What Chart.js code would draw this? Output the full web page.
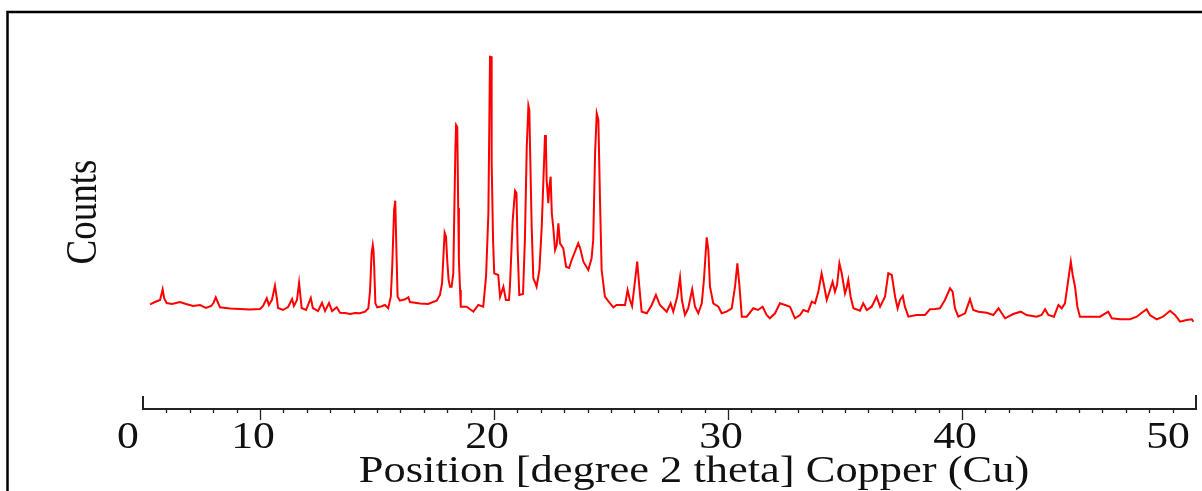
<!DOCTYPE html>
<html>
<head>
<meta charset="utf-8">
<script src="https://cdn.jsdelivr.net/npm/chart.js@4"></script>
<style>
  html, body { margin: 0; padding: 0; background: #fff; }
  #wrap { width: 1202px; height: 491px; position: relative; }
</style>
</head>
<body>
<div id="wrap"><canvas id="xrd" width="1202" height="491"></canvas></div>
<script>
// 2-theta positions (degrees) and counts
const twoTheta = [
  5.30, 5.51, 5.73, 5.84, 5.90, 6.01, 6.24, 6.58, 6.84, 7.14, 7.44, 7.69, 7.91, 8.01, 8.11, 8.21, 8.29, 8.72, 9.15, 9.57,
  10.00, 10.13, 10.29, 10.38, 10.51, 10.64, 10.73, 10.77, 10.98, 11.20, 11.37, 11.45, 11.58, 11.67, 11.78, 11.97, 12.17, 12.26, 12.48, 12.65,
  12.78, 12.95, 13.08, 13.28, 13.42, 13.63, 13.85, 14.06, 14.27, 14.49, 14.63, 14.70, 14.77, 14.82, 14.85, 14.88, 14.93, 15.01, 15.17, 15.34,
  15.48, 15.59, 15.65, 15.73, 15.78, 15.84, 15.88, 15.98, 16.20, 16.34, 16.41, 16.62, 16.84, 17.19, 17.39, 17.55, 17.69, 17.78, 17.83, 17.89,
  17.95, 18.00, 18.06, 18.12, 18.19, 18.26, 18.30, 18.35, 18.38, 18.43, 18.47, 18.50, 18.55, 18.58, 18.83, 19.12, 19.33, 19.54, 19.66, 19.76,
  19.80, 19.83, 19.89, 19.90, 19.96, 20.01, 20.18, 20.26, 20.40, 20.51, 20.64, 20.68, 20.80, 20.90, 20.96, 21.01, 21.08, 21.24, 21.32, 21.40,
  21.47, 21.51, 21.54, 21.61, 21.68, 21.75, 21.82, 21.94, 22.04, 22.18, 22.22, 22.25, 22.32, 22.36, 22.42, 22.47, 22.53, 22.61, 22.68, 22.75,
  22.82, 22.96, 23.08, 23.21, 23.32, 23.46, 23.60, 23.68, 23.82, 23.93, 24.03, 24.17, 24.24, 24.32, 24.39, 24.46, 24.53, 24.60, 24.74, 24.96,
  25.10, 25.24, 25.38, 25.60, 25.71, 25.81, 25.90, 26.03, 26.12, 26.21, 26.31, 26.53, 26.74, 26.92, 27.09, 27.38, 27.55, 27.66, 27.83, 27.95,
  28.03, 28.16, 28.30, 28.47, 28.59, 28.73, 28.88, 28.97, 29.09, 29.16, 29.23, 29.37, 29.59, 29.73, 29.94, 30.16, 30.30, 30.40, 30.48, 30.59,
  30.80, 31.08, 31.28, 31.48, 31.65, 31.79, 32.01, 32.22, 32.44, 32.65, 32.86, 33.08, 33.22, 33.42, 33.58, 33.72, 33.86, 34.00, 34.10, 34.22,
  34.36, 34.47, 34.57, 34.66, 34.76, 34.86, 35.00, 35.07, 35.14, 35.24, 35.36, 35.64, 35.78, 35.93, 36.14, 36.35, 36.50, 36.71, 36.85, 37.00,
  37.14, 37.25, 37.35, 37.47, 37.56, 37.71, 38.06, 38.42, 38.63, 38.85, 39.06, 39.27, 39.49, 39.60, 39.70, 39.84, 40.13, 40.34, 40.48, 40.70,
  41.06, 41.34, 41.56, 41.70, 41.84, 42.19, 42.51, 42.76, 43.19, 43.40, 43.55, 43.69, 43.93, 44.12, 44.26, 44.40, 44.52, 44.65, 44.73, 44.83,
  44.93, 45.04, 45.47, 45.90, 46.25, 46.40, 46.75, 47.18, 47.47, 47.68, 47.89, 48.03, 48.32, 48.59, 48.89, 49.10, 49.32, 49.60, 49.82, 49.89
];
const counts = [
  1047, 1070, 1090, 1197, 1110, 1060, 1050, 1070, 1050, 1030, 1040, 1010, 1030, 1060, 1117, 1060, 1017, 1005, 1000, 995,
  1000, 1030, 1107, 1040, 1090, 1233, 1090, 1010, 990, 1020, 1100, 1030, 1090, 1263, 1010, 990, 1110, 1010, 980, 1063,
  980, 1060, 980, 1017, 963, 960, 950, 960, 957, 973, 1007, 1173, 1557, 1640, 1590, 1423, 1057, 1017, 1025, 1040,
  1007, 1123, 1423, 1990, 2083, 1490, 1123, 1083, 1097, 1117, 1070, 1063, 1055, 1050, 1070, 1083, 1140, 1257, 1490, 1763,
  1723, 1490, 1290, 1223, 1223, 1357, 1923, 2590, 2840, 2820, 2010, 1490, 1190, 1023, 1023, 973, 1040, 1023, 1323, 1957,
  2857, 3523, 3520, 2460, 1690, 1357, 1340, 1123, 1223, 1090, 1090, 1223, 1890, 2183, 2160, 1607, 1140, 1150, 1690, 2623,
  3033, 2990, 2623, 1823, 1307, 1270, 1223, 1390, 1823, 2740, 2640, 2290, 2057, 2207, 2323, 1957, 1823, 1590, 1640, 1857,
  1657, 1607, 1423, 1410, 1490, 1573, 1657, 1610, 1473, 1430, 1390, 1507, 1690, 2557, 2957, 2890, 2090, 1390, 1123, 1057,
  1017, 1040, 1040, 1040, 1190, 1090, 1030, 1290, 1473, 1223, 973, 957, 1040, 1140, 1040, 973, 1057, 973, 1123, 1317,
  1090, 940, 1007, 1197, 1023, 957, 1057, 1290, 1717, 1590, 1223, 1057, 1023, 957, 973, 1007, 1223, 1457, 1257, 923,
  923, 1007, 990, 1023, 940, 907, 957, 1057, 1040, 1023, 907, 940, 990, 973, 1073, 1057, 1173, 1357, 1240, 1090,
  1190, 1273, 1173, 1240, 1457, 1357, 1157, 1210, 1290, 1123, 1007, 983, 1057, 990, 1023, 1123, 1023, 1123, 1357, 1340,
  1123, 1007, 1090, 1130, 1023, 923, 940, 940, 997, 1000, 1007, 1090, 1207, 1173, 1007, 923, 957, 1097, 990, 973,
  963, 940, 1007, 957, 907, 950, 973, 940, 923, 940, 997, 940, 923, 1040, 1007, 1057, 1257, 1473, 1340, 1223,
  1023, 923, 923, 923, 973, 907, 897, 897, 923, 963, 997, 940, 897, 923, 983, 940, 873, 890, 897, 873
];
const xTickValues = [0, 10, 20, 30, 40, 50];
const xTickLabels = ['0', '10', '20', '30', '40', '50'];
const xTitle = 'Position [degree 2 theta] Copper (Cu)';
const yTitle = 'Counts';

const serif = '"Liberation Serif", "Times New Roman", serif';

// frame, x axis with 1-degree minor ticks, tick labels and titles
const decorations = {
  id: 'decorations',
  afterDraw(chart) {
    const ctx = chart.ctx;
    const x = chart.scales.x;
    const area = chart.chartArea;
    const base = Math.round(area.bottom);
    ctx.save();

    // outer frame (top + left only)
    ctx.strokeStyle = '#000';
    ctx.lineWidth = 2.5;
    ctx.beginPath();
    ctx.moveTo(7.5, 491);
    ctx.lineTo(7.5, 12);
    ctx.lineTo(1202, 12);
    ctx.stroke();

    // axis line with upturned ends
    ctx.strokeStyle = '#222';
    ctx.lineWidth = 2;
    const left = Math.round(x.getPixelForValue(x.min));
    const right = Math.round(x.getPixelForValue(x.max));
    ctx.beginPath();
    ctx.moveTo(left, base - 13);
    ctx.lineTo(left, base);
    ctx.lineTo(right, base);
    ctx.lineTo(right, base - 14);
    ctx.stroke();

    // ticks, every degree, longer every ten
    ctx.lineWidth = 1.3;
    for (let v = Math.ceil(x.min) + 1; v < x.max; v++) {
      const px = Math.round(x.getPixelForValue(v)) + 0.5;
      const len = v % 10 === 0 ? 11 : 4;
      ctx.beginPath();
      ctx.moveTo(px, base);
      ctx.lineTo(px, base + len);
      ctx.stroke();
    }

    ctx.fillStyle = '#111';
    ctx.font = '38px ' + serif;
    ctx.textAlign = 'center';
    ctx.textBaseline = 'alphabetic';
    xTickValues.forEach((v, i) => {
      let px = x.getPixelForValue(v) - 7;
      px = Math.min(Math.max(px, 128), 1168);
      ctx.save();
      ctx.translate(px, 448);
      ctx.scale(1.15, 1);
      ctx.fillText(xTickLabels[i], 0, 0);
      ctx.restore();
    });

    ctx.save();
    ctx.translate(694, 482);
    ctx.scale(1.17, 1);
    ctx.fillText(xTitle, 0, 0);
    ctx.restore();

    ctx.save();
    ctx.translate(85, 212);
    ctx.scale(1.17, 1);
    ctx.rotate(-Math.PI / 2);
    ctx.textBaseline = 'middle';
    ctx.font = '37px ' + serif;
    ctx.fillText(yTitle, 0, 0);
    ctx.restore();

    ctx.restore();
  }
};

new Chart(document.getElementById('xrd'), {
  type: 'line',
  data: {
    datasets: [{
      data: twoTheta.map((t, i) => ({ x: t, y: counts[i] })),
      borderColor: 'rgb(255, 0, 0)',
      borderWidth: 2,
      pointRadius: 0,
      tension: 0,
      fill: false
    }]
  },
  options: {
    responsive: false,
    animation: false,
    events: [],
    layout: { padding: { left: 143, right: 6, top: 9, bottom: 82 } },
    plugins: { legend: { display: false }, tooltip: { enabled: false } },
    scales: {
      x: { type: 'linear', display: false, min: 5, max: 50 },
      y: { display: false, min: 0, max: 4000 }
    }
  },
  plugins: [decorations]
});
</script>
</body>
</html>
